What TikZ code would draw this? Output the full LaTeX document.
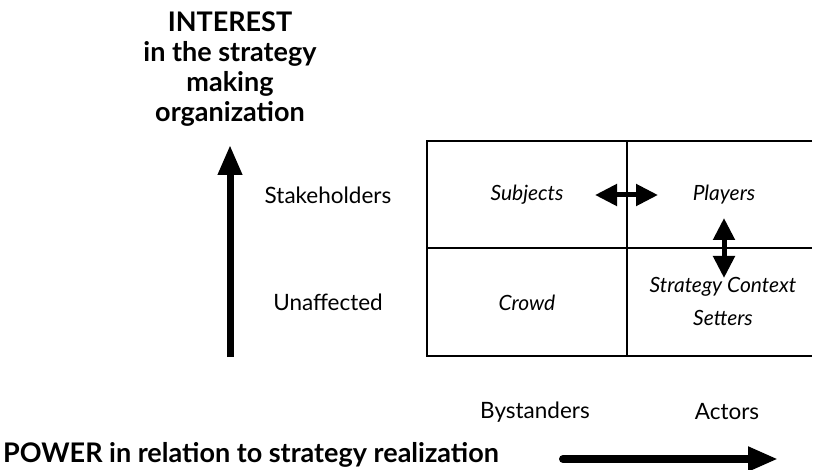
\documentclass[tikz,border=0pt]{standalone}
\usepackage{fontspec}
\setmainfont{Lato}
\usetikzlibrary{arrows.meta}
\tikzset{
  lbl/.style={font=\fontsize{22.5}{26}\selectfont, inner sep=0pt},
  cell/.style={font=\fontsize{21}{33}\selectfont\itshape, inner sep=0pt, align=center},
  head/.style={font=\fontsize{27}{30}\selectfont\bfseries, inner sep=0pt, align=center},
  grid/.style={line width=1.5pt},
  bigarrow/.style={line width=7pt, -{Triangle[length=30pt,width=23pt]}},
  dblarrow/.style={line width=5pt, {Triangle[length=22pt,width=21pt]}-{Triangle[length=22pt,width=21pt]}},
}
\begin{document}
\begin{tikzpicture}[x=1pt,y=-1pt]
\useasboundingbox (0,0) rectangle (814,470);
% grid
\draw[grid] (812,141) -- (427,141) -- (427,356) -- (812,356);
\draw[grid] (427,248) -- (812,248);
\draw[grid] (627,141) -- (627,356);
% title
\node[head] (title) at (230,69) {INTEREST\\in the strategy\\making\\organization};
% vertical axis
\coordinate (vb) at (230,357);
\coordinate (vt) at (230,145);
\draw[bigarrow] (vb) -- (vt);
\node[lbl] (stake) at (328,195) {Stakeholders};
\node[lbl] (unaff) at (328,302) {Unaffected};
% cells
\node[cell] (subj) at (527,195) {Subjects};
\node[cell] (play) at (724,195) {Players};
\node[cell] (crowd) at (527,303) {Crowd};
\node[cell] (scs) at (723,301) {Strategy Context\\Setters};
% double arrows
\coordinate (hl) at (595,195);
\coordinate (hr) at (658,195);
\draw[dblarrow] (hl) -- (hr);
\coordinate (vtop) at (724,218);
\coordinate (vbot) at (724,278);
\draw[dblarrow] (vtop) -- (vbot);
% bottom labels
\node[lbl] (by) at (535,412) {Bystanders};
\node[lbl] (act) at (727,412) {Actors};
\node[head, anchor=west] (power) at (3,455) {POWER in relation to strategy realization};
\coordinate (hs) at (563,459);
\coordinate (he) at (778,459);
\draw[bigarrow, line width=8pt, line cap=round] (hs) -- (he);
\end{tikzpicture}
\end{document}
